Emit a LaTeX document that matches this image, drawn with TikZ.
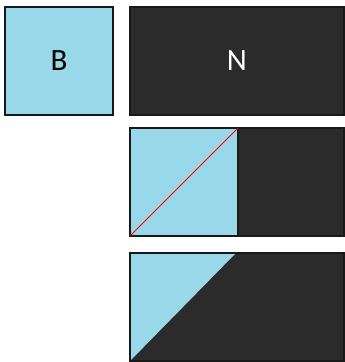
\documentclass[tikz,border=0pt]{standalone}
\usepackage{fontspec}
\setmainfont{Carlito}
\usetikzlibrary{positioning}
\definecolor{LB}{RGB}{152,216,232}
\definecolor{DK}{RGB}{43,43,43}
\definecolor{EG}{RGB}{25,25,25}

\begin{document}
\begin{tikzpicture}[x=1pt, y=-1pt,
  tile/.style={draw=EG, fill=#1, line width=1.2pt, minimum width=108pt,
               minimum height=108pt, inner sep=0pt, outer sep=0pt,
               anchor=north west, font=\fontsize{31}{36}\selectfont},
  cut/.style={red, line width=1pt}
]
\useasboundingbox (0,0) rectangle (345,362);

% Top row
\node[tile=LB] (blue) at (5,7) {B};
\node[tile=DK, minimum width=214pt, text=white] (dark) at (130,7) {N};

% Middle row
\node[tile=LB] (sq) at (130,128) {};
\node[tile=DK, minimum width=106pt] (rest) at (238,128) {};
\draw[cut] (sq.south west) -- (sq.north east);

% Bottom row
\node[tile=DK, minimum width=214pt] (mix) at (130,253) {};
\coordinate (tip) at (236,253);
\fill[LB] (mix.north west) -- (tip) -- (mix.south west) -- cycle;
\draw[draw=EG, line width=1.2pt] (mix.north west) rectangle (mix.south east);
\end{tikzpicture}
\end{document}
